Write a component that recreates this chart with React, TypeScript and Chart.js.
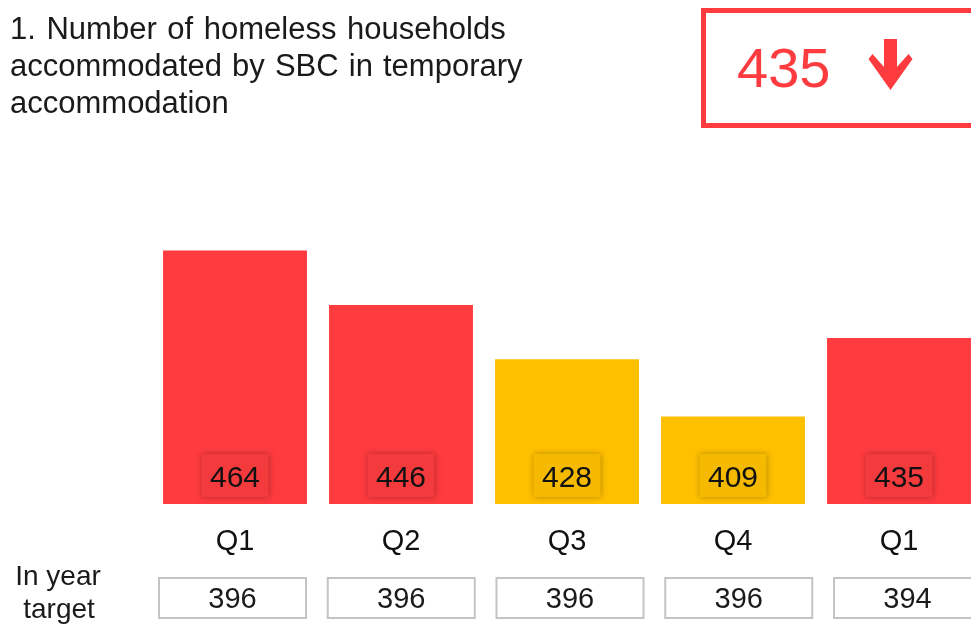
import React, { useEffect, useRef } from "react";
import { Chart, registerables } from "chart.js";

Chart.register(...registerables);

const titleLines = [
  "1. Number of homeless households",
  "accommodated by SBC in temporary",
  "accommodation",
];
const categories = ["Q1", "Q2", "Q3", "Q4", "Q1"];
const values = [464, 446, 428, 409, 435];
const targets = [396, 396, 396, 396, 394];
const ragStatus = ["red", "red", "amber", "amber", "red"];
const targetRowLabel = ["In year", "target"];
const latestValue = 435;
const latestDirection = "down";

const FONT = '"Liberation Sans", Arial, sans-serif';
const RED = "#FE3B3F";
const AMBER = "#FFC000";
const RED_BOX = "#F33A3D";
const AMBER_BOX = "#F5BA00";

const CANVAS_W = 990;
const CANVAS_H = 626;

const overlayPlugin = {
  id: "kpiOverlay",
  afterDatasetsDraw(chart: any) {
    const ctx: CanvasRenderingContext2D = chart.ctx;
    const xScale = chart.scales.x;
    const yScale = chart.scales.y;
    ctx.save();

    // Title
    ctx.fillStyle = "#1a1a1a";
    ctx.font = `31px ${FONT}`;
    ctx.textAlign = "left";
    ctx.textBaseline = "alphabetic";
    const spacings = ["2px", "1.5px", "0px"];
    titleLines.forEach((line, i) => {
      (ctx as any).wordSpacing = spacings[i];
      ctx.fillText(line, 10, 39 + i * 37);
    });
    (ctx as any).wordSpacing = "0px";

    // KPI box
    ctx.strokeStyle = RED;
    ctx.lineWidth = 5;
    ctx.strokeRect(703.5, 10.5, 400, 115);
    ctx.fillStyle = RED;
    ctx.font = `56px ${FONT}`;
    ctx.fillText(String(latestValue), 737, 87);
    // arrow
    const ax = 890.5;
    ctx.beginPath();
    if (latestDirection === "down") {
      ctx.moveTo(ax - 6.5, 39);
      ctx.lineTo(ax + 6.5, 39);
      ctx.lineTo(ax + 6.5, 67);
      ctx.lineTo(ax + 18, 54);
      ctx.lineTo(ax + 22, 59);
      ctx.lineTo(ax, 90);
      ctx.lineTo(ax - 22, 59);
      ctx.lineTo(ax - 18, 54);
      ctx.lineTo(ax - 6.5, 67);
    }
    ctx.closePath();
    ctx.fill();

    // Value labels on bars + category labels
    const base = yScale.getPixelForValue(yScale.min);
    values.forEach((v, i) => {
      const bx = xScale.getPixelForValue(i);
      const w = 67;
      const h = 43;
      ctx.save();
      ctx.shadowColor = "rgba(0,0,0,0.3)";
      ctx.shadowBlur = 6;
      ctx.fillStyle = ragStatus[i] === "red" ? RED_BOX : AMBER_BOX;
      ctx.fillRect(bx - w / 2, base - 7 - h, w, h);
      ctx.restore();
      ctx.fillStyle = "#111";
      ctx.font = `30px ${FONT}`;
      ctx.textAlign = "center";
      ctx.textBaseline = "alphabetic";
      ctx.fillText(String(v), bx, base - 17);

      ctx.fillStyle = "#111";
      ctx.font = `29px ${FONT}`;
      ctx.fillText(categories[i], bx, base + 46);
    });

    // Target row
    ctx.textAlign = "center";
    ctx.fillStyle = "#1a1a1a";
    ctx.font = `28px ${FONT}`;
    ctx.fillText(targetRowLabel[0], 58, 585);
    ctx.fillText(targetRowLabel[1], 59, 618);

    const tableLeft = 148;
    const pitch = 168.75;
    const boxW = 149;
    targets.forEach((t, i) => {
      const left = tableLeft + 10 + i * pitch;
      ctx.fillStyle = "#fff";
      ctx.fillRect(left, 577, boxW, 42);
      ctx.strokeStyle = "#c4c4c4";
      ctx.lineWidth = 2;
      ctx.strokeRect(left + 1, 578, boxW - 2, 40);
      ctx.fillStyle = "#1a1a1a";
      ctx.font = `29px ${FONT}`;
      ctx.fillText(String(t), left + boxW / 2, 608);
    });

    ctx.restore();
  },
};

export default function App() {
  const canvasRef = useRef<HTMLCanvasElement | null>(null);

  useEffect(() => {
    if (!canvasRef.current) return;
    const chart = new Chart(canvasRef.current, {
      type: "bar",
      data: {
        labels: categories,
        datasets: [
          {
            data: values,
            backgroundColor: ragStatus.map((s) => (s === "red" ? RED : AMBER)),
            borderWidth: 0,
            barPercentage: 0.867,
            categoryPercentage: 1,
          },
        ],
      },
      options: {
        responsive: false,
        maintainAspectRatio: false,
        animation: false,
        layout: { padding: { top: 142, bottom: 122, left: 152, right: 8 } },
        plugins: { legend: { display: false }, tooltip: { enabled: false } },
        scales: {
          x: { display: false },
          y: { display: false, min: 380, max: 500 },
        },
      },
      plugins: [overlayPlugin],
    });
    return () => chart.destroy();
  }, []);

  return (
    <div
      style={{
        position: "fixed",
        left: 0,
        top: 0,
        width: 971,
        height: 626,
        overflow: "hidden",
        background: "#fff",
      }}
    >
      <canvas
        ref={canvasRef}
        width={CANVAS_W}
        height={CANVAS_H}
        style={{ display: "block", width: CANVAS_W, height: CANVAS_H }}
      />
    </div>
  );
}
